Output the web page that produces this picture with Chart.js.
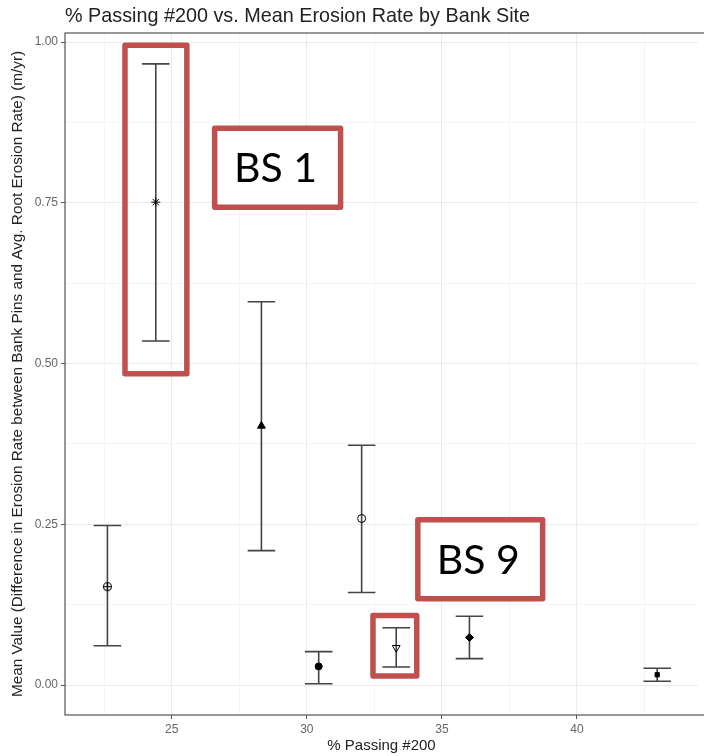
<!DOCTYPE html>
<html>
<head>
<meta charset="utf-8">
<script src="https://cdn.jsdelivr.net/npm/chart.js@4.4.1/dist/chart.umd.min.js"></script>
<style>
  html, body { margin: 0; padding: 0; background: #fff; }
  #wrap { width: 704px; height: 756px; }
</style>
</head>
<body>
<div id="wrap"><canvas id="erosion_chart" width="704" height="756"></canvas></div>
<script>
// % passing #200 for each bank site
var passing_200 = [22.62, 24.41, 28.32, 30.44, 32.03, 33.31, 36.02, 42.97];
// mean difference in erosion rate (m/yr), with the error bar ends
var mean_rate  = [0.153, 0.751, 0.403, 0.029, 0.259, 0.058, 0.074, 0.016];
var upper_rate = [0.248, 0.966, 0.596, 0.052, 0.373, 0.089, 0.107, 0.026];
var lower_rate = [0.061, 0.535, 0.209, 0.002, 0.144, 0.028, 0.041, 0.006];

// tick labels
var x_ticks = [25, 30, 35, 40];
var y_ticks = [0, 0.25, 0.5, 0.75, 1.0];

// callout labels
var callout_text = ['BS 1', 'BS 9'];

// minor grid lines sit half way between the major ones
var x_grid = [22.5, 25, 27.5, 30, 32.5, 35, 37.5, 40, 42.5];
var y_grid = [0, 0.125, 0.25, 0.375, 0.5, 0.625, 0.75, 0.875, 1.0];

var font_family = '"Liberation Sans", Arial, sans-serif';

// circle with a plus inside (ggplot shape 10)
function circle_plus_marker() {
    var c = document.createElement('canvas');
    c.width = 11;
    c.height = 11;
    var g = c.getContext('2d');
    g.strokeStyle = '#000';
    g.lineWidth = 1.1;
    g.beginPath();
    g.arc(5.5, 5.5, 4, 0, Math.PI * 2);
    g.stroke();
    g.beginPath();
    g.moveTo(5.5, 1); g.lineTo(5.5, 10);
    g.moveTo(1, 5.5); g.lineTo(10, 5.5);
    g.stroke();
    return c;
}

var point_styles = [circle_plus_marker(), 'star', 'triangle', 'circle', 'circle', 'triangle', 'rectRot', 'rect'];
var point_rotation = [0, 0, 0, 0, 0, 180, 0, 0];
var point_fill = ['#000', '#000', '#000', '#000', 'rgba(0,0,0,0)', 'rgba(0,0,0,0)', '#000', '#000'];
var point_size = [5, 4.5, 4.5, 3.5, 4, 4.5, 4, 3];

// error bars drawn under the points
var error_bars = {
    id: 'error_bars',
    beforeDatasetsDraw: function (chart) {
        var ctx = chart.ctx;
        var xs = chart.scales.x;
        var ys = chart.scales.y;
        ctx.save();
        ctx.strokeStyle = '#444';
        ctx.lineWidth = 1.6;
        for (var i = 0; i < passing_200.length; i++) {
            var px = xs.getPixelForValue(passing_200[i]);
            var x0 = xs.getPixelForValue(passing_200[i] - 0.51);
            var x1 = xs.getPixelForValue(passing_200[i] + 0.51);
            var top = ys.getPixelForValue(upper_rate[i]);
            var bot = ys.getPixelForValue(lower_rate[i]);
            ctx.beginPath();
            ctx.moveTo(px, top); ctx.lineTo(px, bot);
            ctx.moveTo(x0, top); ctx.lineTo(x1, top);
            ctx.moveTo(x0, bot); ctx.lineTo(x1, bot);
            ctx.stroke();
        }
        ctx.restore();
    }
};

// panel border, title and the red callout boxes
var panel_extras = {
    id: 'panel_extras',
    afterDraw: function (chart) {
        var ctx = chart.ctx;
        var a = chart.chartArea;
        var xs = chart.scales.x;
        var ys = chart.scales.y;

        ctx.save();
        ctx.strokeStyle = '#555';
        ctx.lineWidth = 1.2;
        ctx.strokeRect(a.left, a.top, a.right - a.left + 10, a.bottom - a.top);

        ctx.fillStyle = '#222';
        ctx.font = '19.8px ' + font_family;
        ctx.textBaseline = 'middle';
        ctx.textAlign = 'left';
        ctx.fillText('% Passing #200 vs. Mean Erosion Rate by Bank Site', a.left, 17);

        // boxes given in data units: [x0, x1, y0, y1, text index or -1]
        var boxes = [
            [23.27, 25.56, 0.995, 0.484, -1],
            [26.59, 31.25, 0.866, 0.743, 0],
            [34.11, 38.73, 0.257, 0.134, 1],
            [32.45, 34.07, 0.108, 0.014, -1]
        ];
        ctx.strokeStyle = '#c0504d';
        ctx.lineWidth = 5.5;
        ctx.lineJoin = 'round';
        boxes.forEach(function (b) {
            var l = xs.getPixelForValue(b[0]);
            var r = xs.getPixelForValue(b[1]);
            var t = ys.getPixelForValue(b[2]);
            var btm = ys.getPixelForValue(b[3]);
            if (b[4] >= 0) {
                ctx.fillStyle = '#fff';
                ctx.fillRect(l, t, r - l, btm - t);
            }
            ctx.strokeRect(l, t, r - l, btm - t);
            if (b[4] >= 0) {
                ctx.fillStyle = '#000';
                ctx.font = '41px Lato, "Open Sans", sans-serif';
                ctx.textAlign = 'center';
                ctx.textBaseline = 'middle';
                ctx.fillText(callout_text[b[4]], (l + r) / 2 - 2, (t + btm) / 2 + 1);
            }
        });
        ctx.restore();
    }
};

function grid_colour(major_list) {
    return function (c) {
        if (!c.tick) return '#ebebeb';
        return major_list.indexOf(c.tick.value) >= 0 ? '#ebebeb' : '#f5f5f5';
    };
}

function tick_colour(major_list) {
    return function (c) {
        if (!c.tick) return '#555';
        return major_list.indexOf(c.tick.value) >= 0 ? '#555' : 'rgba(0,0,0,0)';
    };
}

var points = passing_200.map(function (x, i) {
    return { x: x, y: mean_rate[i] };
});

var erosion_chart = new Chart(document.getElementById('erosion_chart').getContext('2d'), {
    type: 'scatter',
    data: {
        datasets: [{
            data: points,
            pointStyle: point_styles,
            rotation: point_rotation,
            pointRadius: point_size,
            backgroundColor: point_fill,
            borderColor: '#000',
            borderWidth: 1
        }]
    },
    options: {
        responsive: false,
        animation: false,
        layout: {
            padding: { top: 33, right: 0, bottom: 0, left: 0 }
        },
        plugins: {
            legend: { display: false },
            tooltip: { enabled: false },
            title: { display: false }
        },
        scales: {
            x: {
                type: 'linear',
                min: 21.05,
                max: 44.48,
                afterBuildTicks: function (scale) {
                    scale.ticks = x_grid.map(function (v) { return { value: v }; });
                },
                afterFit: function (scale) {
                    scale.height = 41;
                },
                grid: {
                    color: grid_colour(x_ticks),
                    tickColor: tick_colour(x_ticks),
                    tickLength: 4,
                    lineWidth: 1
                },
                border: { display: false },
                ticks: {
                    autoSkip: false,
                    maxRotation: 0,
                    padding: 3,
                    color: '#666',
                    font: { size: 12, family: font_family },
                    callback: function (v) {
                        return x_ticks.indexOf(v) >= 0 ? String(v) : '';
                    }
                },
                title: {
                    display: true,
                    text: '% Passing #200',
                    color: '#222',
                    font: { size: 15, family: font_family },
                    padding: { top: 0, bottom: 1 }
                }
            },
            y: {
                type: 'linear',
                min: -0.0466,
                max: 1.014,
                afterBuildTicks: function (scale) {
                    scale.ticks = y_grid.map(function (v) { return { value: v }; });
                },
                afterFit: function (scale) {
                    scale.width = 65;
                },
                grid: {
                    color: grid_colour(y_ticks),
                    tickColor: tick_colour(y_ticks),
                    tickLength: 4,
                    lineWidth: 1
                },
                border: { display: false },
                ticks: {
                    autoSkip: false,
                    padding: 3,
                    color: '#666',
                    font: { size: 12, family: font_family },
                    callback: function (v) {
                        return y_ticks.indexOf(v) >= 0 ? v.toFixed(2) : '';
                    }
                },
                title: {
                    display: true,
                    text: 'Mean Value (Difference in Erosion Rate between Bank Pins and Avg. Root Erosion Rate) (m/yr)',
                    color: '#222',
                    font: { size: 15.3, family: font_family },
                    padding: { top: 9, bottom: 0 }
                }
            }
        }
    },
    plugins: [error_bars, panel_extras]
});
</script>
</body>
</html>
